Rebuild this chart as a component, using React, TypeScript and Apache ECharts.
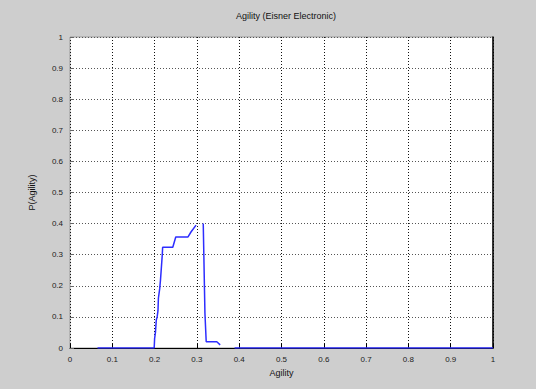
import React, { useEffect, useRef } from "react";
import * as echarts from "echarts";

const titleText = "Agility (Eisner Electronic)";
const xName = "Agility";
const yName = "P(Agility)";
const tickLabels = ["0", "0.1", "0.2", "0.3", "0.4", "0.5", "0.6", "0.7", "0.8", "0.9", "1"];
// Agility values (x) and probabilities (y); null marks a break in the curve
const agility: number[] = [
  0.065, 0.199, 0.2, 0.202, 0.204, 0.206, 0.208, 0.209, 0.212, 0.214, 0.218, 0.219,
  0.243, 0.25, 0.279, 0.286, 0.298, 0.306,
  0.315, 0.319, 0.322, 0.347, 0.355, 0.37,
  0.389, 1.0,
];
const prob: (number | null)[] = [
  0, 0, 0.03, 0.05, 0.09, 0.1, 0.12, 0.16, 0.19, 0.22, 0.297, 0.324,
  0.324, 0.357, 0.357, 0.373, 0.395, null,
  0.4, 0.112, 0.02, 0.02, 0.01, null,
  0, 0,
];

export default function App() {
  const ref = useRef<HTMLDivElement>(null);
  useEffect(() => {
    if (!ref.current) return;
    const chart = echarts.init(ref.current, null, { renderer: "svg" });
    const fontFamily = "Liberation Sans, Arial, sans-serif";
    const labelStyle = { fontSize: 8, color: "#222", fontFamily };
    const gridLine = (color: string) => ({
      show: true,
      lineStyle: { color, width: 1, type: [1, 2] as any },
    });
    chart.setOption({
      animation: false,
      backgroundColor: "#cecece",
      title: {
        text: titleText,
        left: 281,
        top: 6,
        textAlign: "center",
        textStyle: { fontSize: 9, fontWeight: "normal", color: "#111", fontFamily },
      },
      grid: {
        left: 70,
        right: 43,
        top: 37,
        bottom: 41,
        show: true,
        backgroundColor: "#ffffff",
        borderColor: "#9a9a9a",
        borderWidth: 1,
      },
      xAxis: {
        type: "value",
        min: 0,
        max: 1,
        interval: 0.1,
        name: xName,
        nameLocation: "middle",
        nameGap: 20,
        nameTextStyle: { fontSize: 9, color: "#111", fontFamily },
        axisLine: { show: true, lineStyle: { color: "#000", width: 1 } },
        axisTick: { show: true, inside: true, length: 4, lineStyle: { color: "#000" } },
        axisLabel: {
          ...labelStyle,
          margin: 7,
          formatter: (v: number) => tickLabels[Math.round(v * 10)] ?? "",
        },
        splitLine: gridLine("#111"),
      },
      yAxis: [
        {
          type: "value",
          min: 0,
          max: 1,
          interval: 0.1,
          name: yName,
          nameLocation: "middle",
          nameGap: 34,
          nameRotate: 90,
          nameTextStyle: { fontSize: 9, color: "#111", fontFamily },
          axisLine: { show: false },
          axisTick: { show: true, inside: true, length: 4, lineStyle: { color: "#666" } },
          axisLabel: {
            ...labelStyle,
            margin: 7,
            formatter: (v: number) => tickLabels[Math.round(v * 10)] ?? "",
          },
          splitLine: gridLine("#555"),
        },
        {
          type: "value",
          min: 0,
          max: 1,
          interval: 0.1,
          position: "right",
          axisLine: { show: true, lineStyle: { color: "#000", width: 1.5 } },
          axisTick: { show: false },
          axisLabel: { show: false },
          splitLine: { show: false },
        },
      ],
      series: [
        {
          type: "line",
          data: agility.map((x, i) => [x, prob[i] === null ? "-" : prob[i]]),
          showSymbol: false,
          symbol: "none",
          connectNulls: false,
          lineStyle: { color: "#2d2dff", width: 1.5 },
          z: 3,
        },
      ],
    });
    return () => chart.dispose();
  }, []);
  return (
    <div
      ref={ref}
      style={{ position: "fixed", left: 0, top: 0, width: 536, height: 389 }}
    />
  );
}
